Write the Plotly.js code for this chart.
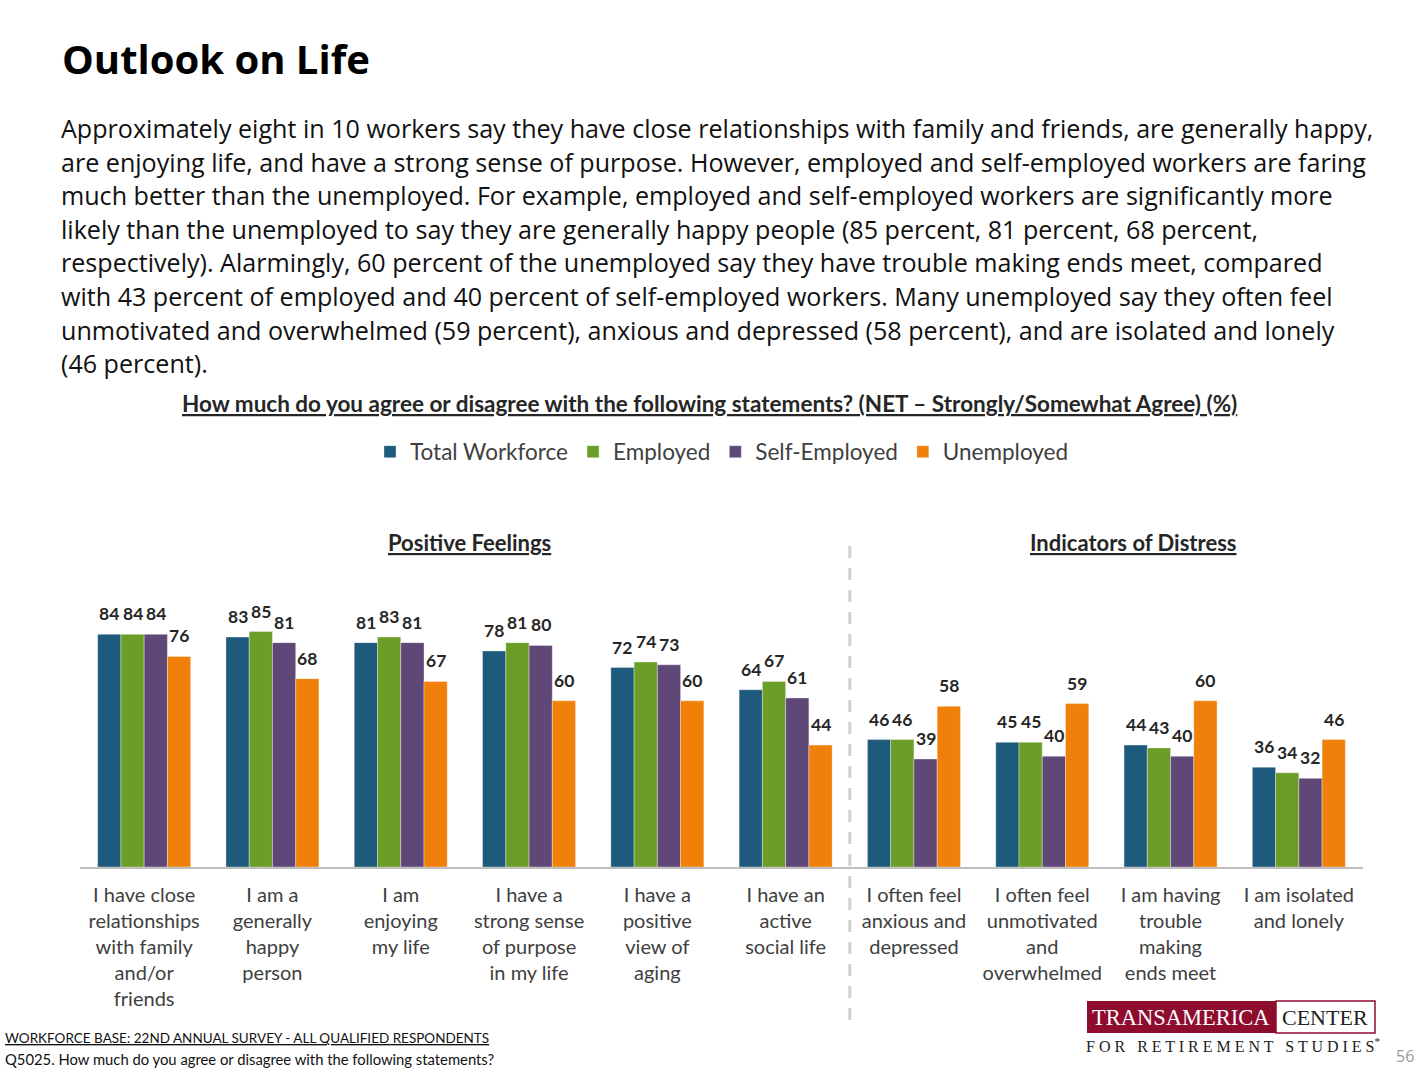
<!DOCTYPE html>
<html><head><meta charset="utf-8">
<script src="https://cdn.plot.ly/plotly-3.0.1.min.js"></script>
<style>html,body{margin:0;padding:0;background:#fff;}#chart{width:1428px;height:1069px;}</style>
</head><body><div id="chart"></div>
<script>
const categories = [
  "I have close<br>relationships<br>with family<br>and/or<br>friends",
  "I am a<br>generally<br>happy<br>person",
  "I am<br>enjoying<br>my life",
  "I have a<br>strong sense<br>of purpose<br>in my life",
  "I have a<br>positive<br>view of<br>aging",
  "I have an<br>active<br>social life",
  "I often feel<br>anxious and<br>depressed",
  "I often feel<br>unmotivated<br>and<br>overwhelmed",
  "I am having<br>trouble<br>making<br>ends meet",
  "I am isolated<br>and lonely"
];
const seriesNames = ["Total Workforce", "Employed", "Self-Employed", "Unemployed"];
const totalWorkforce = [84, 83, 81, 78, 72, 64, 46, 45, 44, 36];
const employed       = [84, 85, 83, 81, 74, 67, 46, 45, 43, 34];
const selfEmployed   = [84, 81, 81, 80, 73, 61, 39, 40, 40, 32];
const unemployed     = [76, 68, 67, 60, 60, 44, 58, 59, 60, 46];
const seriesValues = [totalWorkforce, employed, selfEmployed, unemployed];
const colors = ["#1D5A7C", "#6B9E28", "#5F4878", "#F0800A"];

const paragraph = [
  "Approximately eight in 10 workers say they have close relationships with family and friends, are generally happy,",
  "are enjoying life, and have a strong sense of purpose. However, employed and self-employed workers are faring",
  "much better than the unemployed. For example, employed and self-employed workers are significantly more",
  "likely than the unemployed to say they are generally happy people (85 percent, 81 percent, 68 percent,",
  "respectively). Alarmingly, 60 percent of the unemployed say they have trouble making ends meet, compared",
  "with 43 percent of employed and 40 percent of self-employed workers. Many unemployed say they often feel",
  "unmotivated and overwhelmed (59 percent), anxious and depressed (58 percent), and are isolated and lonely",
  "(46 percent)."
];

// layout geometry (pixels)
const W = 1428, H = 1069;
const ML = 80, MR = 65, MT = 590, MB = 202;
const PW = W - ML - MR, PH = H - MT - MB;
const px = v => (v - ML) / PW;
const py = v => (H - MB - v) / PH;

const chartFont = "Lato, 'Open Sans', sans-serif";
const bodyFont = "'Open Sans', 'Noto Sans', sans-serif";
const serif = "'Liberation Serif', 'DejaVu Serif', serif";

const bargap = 0.275;
const barW = (1 - bargap) / 4;

const traces = seriesValues.map((vals, j) => ({
  type: 'bar',
  name: seriesNames[j],
  x: categories.map((c, i) => i),
  y: vals,
  marker: {color: colors[j], line: {color: 'rgba(255,255,255,0.35)', width: 1}},
  hoverinfo: 'none'
}));

const annotations = [];
seriesValues.forEach((vals, j) => {
  vals.forEach((v, i) => {
    annotations.push({
      x: i + (j - 1.5) * barW, y: v, xref: 'x', yref: 'y',
      text: String(v), showarrow: false, yanchor: 'bottom', yshift: 8,
      font: {family: chartFont, size: 17.5, color: '#262626', weight: 'bold'}
    });
  });
});

function txt(text, x, y, opts) {
  return Object.assign({
    xref: 'paper', yref: 'paper', x: px(x), y: py(y), text: text,
    showarrow: false, xanchor: 'left', yanchor: 'middle'
  }, opts || {});
}

annotations.push(txt("<b>Outlook on Life</b>", 60, 58, {font: {family: bodyFont, size: 40, color: '#000'}}));
paragraph.forEach((line, k) => {
  annotations.push(txt(line, 59, 128 + k * 33.6, {font: {family: bodyFont, size: 25.1, color: '#111'}}));
});
annotations.push(txt("<b><u>How much do you agree or disagree with the following statements? (NET – Strongly/Somewhat Agree) (%)</u></b>", 709, 403,
  {xanchor: 'center', font: {family: chartFont, size: 22.5, color: '#262626'}}));
annotations.push(txt("<b><u>Positive Feelings</u></b>", 469, 542, {xanchor: 'center', font: {family: chartFont, size: 22, color: '#262626'}}));
annotations.push(txt("<b><u>Indicators of Distress</u></b>", 1133, 542, {xanchor: 'center', font: {family: chartFont, size: 22, color: '#262626'}}));
annotations.push(txt("<u>WORKFORCE BASE: 22ND ANNUAL SURVEY - ALL QUALIFIED RESPONDENTS</u>", 3, 1038, {font: {family: chartFont, size: 13.5, color: '#111'}}));
annotations.push(txt("Q5025. How much do you agree or disagree with the following statements?", 3, 1059, {font: {family: chartFont, size: 14.8, color: '#111'}}));
annotations.push(txt("TRANSAMERICA", 1181, 1017, {xanchor: 'center', font: {family: serif, size: 22.5, color: '#fff'}}));
annotations.push(txt("CENTER", 1325, 1017, {xanchor: 'center', font: {family: serif, size: 22, color: '#222'}}));
annotations.push(txt("F O R &nbsp; R E T I R E M E N T &nbsp; S T U D I E S<sup>*</sup>", 1233, 1045, {xanchor: 'center', font: {family: serif, size: 16, color: '#222'}}));
annotations.push(txt("56", 1405, 1056, {xanchor: 'center', font: {family: bodyFont, size: 16, color: '#999'}}));

const shapes = [
  {type: 'line', xref: 'x', yref: 'paper', x0: 5.5, x1: 5.5, y0: py(1020), y1: py(538),
   line: {color: '#D0D0D0', width: 3, dash: '12px,10px'}},
  {type: 'rect', xref: 'paper', yref: 'paper', x0: px(1087), x1: px(1276), y0: py(1033), y1: py(1001),
   fillcolor: '#8E0C2E', line: {width: 0}},
  {type: 'rect', xref: 'paper', yref: 'paper', x0: px(1276), x1: px(1375), y0: py(1033), y1: py(1001),
   fillcolor: '#fff', line: {color: '#8E0C2E', width: 1.5}}
];

const layout = {
  width: W, height: H,
  margin: {l: ML, r: MR, t: MT, b: MB, pad: 0},
  paper_bgcolor: '#fff', plot_bgcolor: '#fff',
  barmode: 'group', bargap: bargap, bargroupgap: 0,
  showlegend: true,
  legend: {orientation: 'h', x: px(722), xanchor: 'center', y: py(452), yanchor: 'middle',
           font: {family: chartFont, size: 22.5, color: '#404040'}, traceorder: 'normal'},
  xaxis: {
    type: 'linear', range: [-0.5, 9.5], tickmode: 'array',
    tickvals: categories.map((c, i) => i), ticktext: categories,
    showline: true, linecolor: '#BFBFBF', linewidth: 2, showgrid: false, zeroline: false,
    ticks: '', ticklabelstandoff: 9,
    tickfont: {family: chartFont, size: 20, color: '#404040'}, fixedrange: true
  },
  yaxis: {range: [0, 100], visible: false, fixedrange: true},
  annotations: annotations,
  shapes: shapes
};

Plotly.newPlot('chart', traces, layout, {displayModeBar: false, staticPlot: true});
</script></body></html>
